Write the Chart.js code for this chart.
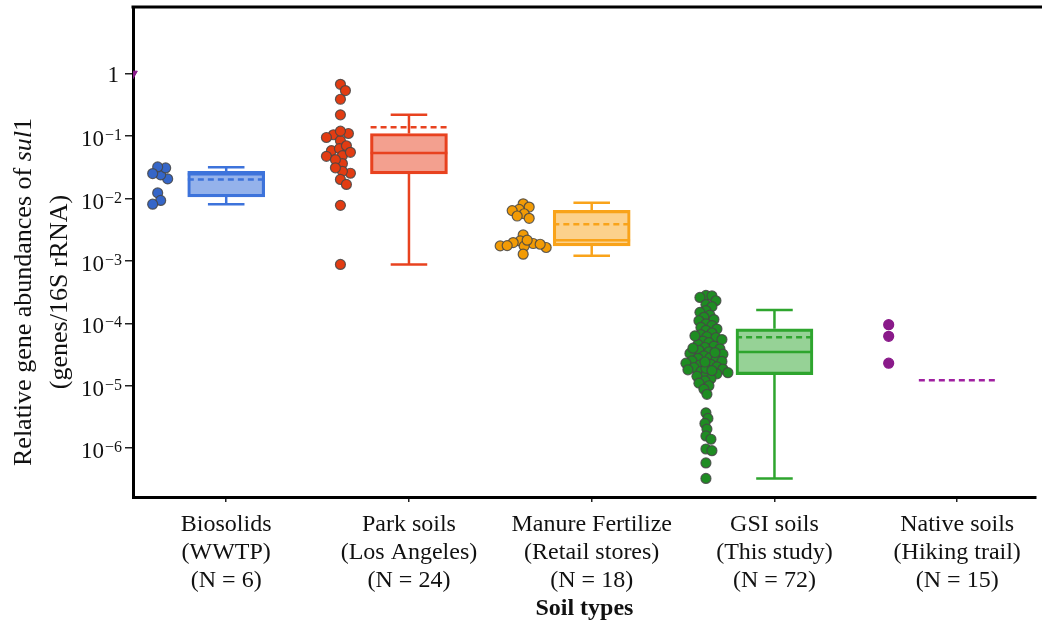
<!DOCTYPE html>
<html>
<head>
<meta charset="utf-8">
<script src="https://cdn.jsdelivr.net/npm/chart.js@4.4.1/dist/chart.umd.min.js"></script>
<style>
  html, body { margin: 0; padding: 0; background: #fff; }
</style>
</head>
<body>
<canvas id="myChart" width="1042" height="635"></canvas>
<script>
// ---- data ----
const categories = ["Biosolids", "Park soils", "Manure Fertilize", "GSI soils", "Native soils"];
const subLabels = ["(WWTP)", "(Los Angeles)", "(Retail stores)", "(This study)", "(Hiking trail)"];
const sampleSizes = [6, 24, 18, 72, 15];

const biosolids = [0.0206, 0.0239, 0.0309, 0.032, 0.0251, 0.0123, 0.0093, 0.0081];
const parkSoils = [0.675, 0.536, 0.389, 0.219, 0.110, 0.105, 0.0845, 0.0585, 0.063, 0.0487, 0.0474, 0.0363,
                   0.0254, 0.0273, 0.0202, 0.0168, 0.00776, 0.000877, 0.095, 0.07, 0.042, 0.031, 0.055, 0.12];
const manure = [0.00823, 0.00729, 0.0067, 0.0064, 0.0057, 0.00524, 0.00482, 0.00261, 0.00209, 0.0019,
                0.00197, 0.00174, 0.00172, 0.00176, 0.00164, 0.00128, 0.00185, 0.00215];
const gsiSoils = [2.8e-4, 2.75e-4, 2.6e-4, 2.3e-4, 2.0e-4, 1.85e-4, 1.6e-4, 1.5e-4, 1.35e-4, 1.25e-4,
                  1.15e-4, 1.1e-4, 9.8e-5, 9.2e-5, 8.6e-5, 8.1e-5, 7.7e-5, 7.0e-5, 6.6e-5, 6.1e-5,
                  5.9e-5, 5.5e-5, 5.2e-5, 4.9e-5, 4.6e-5, 4.3e-5, 4.1e-5, 3.9e-5, 3.7e-5, 3.5e-5,
                  3.3e-5, 3.2e-5, 3.0e-5, 2.8e-5, 2.75e-5, 2.6e-5, 2.5e-5, 2.45e-5, 2.3e-5, 2.2e-5,
                  2.15e-5, 2.0e-5, 1.95e-5, 1.85e-5, 1.8e-5, 1.7e-5, 1.62e-5, 1.55e-5, 1.5e-5, 1.42e-5,
                  1.3e-5, 1.2e-5, 1.1e-5, 1.0e-5, 8.8e-6, 7.3e-6, 3.4e-5, 1.9e-5, 4.0e-5, 2.4e-5,
                  1.75e-5, 6.3e-5,
                  3.68e-6, 3.0e-6, 2.49e-6, 2.02e-6, 1.57e-6, 1.39e-6, 9.7e-7, 9.1e-7, 5.8e-7, 3.27e-7];
const nativeSoils = [9.5e-5, 6.2e-5, 2.3e-5];

// box statistics (no box for native soils, only the mean line)
const q1 = [0.0106, 0.0248, 0.00174, 1.51e-5];
const q3 = [0.0273, 0.110, 0.00645, 8.17e-5];
const medians = [0.0244, 0.0536, 0.00215, 3.47e-5];
const whiskerLow = [0.0081, 0.000877, 0.00121, 3.27e-7];
const whiskerHigh = [0.0316, 0.219, 0.00855, 1.64e-4];
const means = [0.0201, 0.138, 0.00386, 6.0e-5, 1.22e-5];

const yTicks = [1, 1e-1, 1e-2, 1e-3, 1e-4, 1e-5, 1e-6];

// ---- styling ----
const dotColors = ["#3566c8", "#e23c12", "#f29b05", "#1e8c22", "#8a1a8a"];
const edgeColors = ["#3d73db", "#e8421f", "#f9a31a", "#2ea52e", "#a020a0"];
const boxFills = ["rgba(61,115,219,0.55)", "rgba(232,66,31,0.5)", "rgba(249,163,26,0.5)", "rgba(46,165,46,0.5)"];
const swarmGaps = [8, 7.5, 6.5, 5.8, 7];
const SERIF = '"Liberation Serif", "Times New Roman", serif';

const X_MIN = -0.51, X_MAX = 4.43;
const SWARM_SHIFT = -0.375;
const HALF_BOX = 0.21, HALF_CAP = 0.1;

const dotGroups = [biosolids, parkSoils, manure, gsiSoils, nativeSoils];

const whiskerData = [];
q1.forEach((v, i) => {
    whiskerData.push(
        { x: i - HALF_CAP, y: whiskerHigh[i] }, { x: i + HALF_CAP, y: whiskerHigh[i] }, { x: i, y: null },
        { x: i, y: whiskerHigh[i] }, { x: i, y: q3[i] }, { x: i, y: null },
        { x: i, y: v }, { x: i, y: whiskerLow[i] }, { x: i, y: null },
        { x: i - HALF_CAP, y: whiskerLow[i] }, { x: i + HALF_CAP, y: whiskerLow[i] }, { x: i, y: null }
    );
});
const medianData = [];
medians.forEach((m, i) => {
    medianData.push({ x: i - HALF_BOX, y: m }, { x: i + HALF_BOX, y: m }, { x: i, y: null });
});
const meanData = [];
means.forEach((m, i) => {
    meanData.push({ x: i - HALF_BOX, y: m }, { x: i + HALF_BOX, y: m }, { x: i, y: null });
});

const segColor = ctx => edgeColors[Math.round(ctx.p0.parsed.x)];

const datasets = [];
dotGroups.forEach((vals, g) => {
    datasets.push({
        type: "scatter",
        data: vals.map(v => ({ x: g + SWARM_SHIFT, y: v })),
        backgroundColor: dotColors[g],
        borderColor: g === 4 ? dotColors[g] : "rgba(70,70,70,0.85)",
        borderWidth: 1.2,
        pointRadius: 5,
    });
});
datasets.push({
    type: "line", data: medianData, borderWidth: 2.5, pointRadius: 0, spanGaps: false,
    segment: { borderColor: segColor },
});
datasets.push({
    type: "line", data: meanData, borderWidth: 2.5, pointRadius: 0, spanGaps: false,
    borderDash: [6, 4], segment: { borderColor: segColor },
});
datasets.push({
    type: "line", data: whiskerData, borderWidth: 2.5, pointRadius: 0, spanGaps: false,
    segment: { borderColor: segColor },
});
datasets.push({
    type: "bar",
    data: q1.map((v, i) => ({ x: i, y: [v, q3[i]] })),
    backgroundColor: boxFills,
    borderColor: edgeColors.slice(0, 4),
    borderWidth: 2.5,
    borderSkipped: false,
    barThickness: 77,
});
// the clipped purple marker sitting on the left spine at 1
datasets.push({
    type: "scatter",
    data: [{ x: X_MIN, y: 1 }],
    pointStyle: "triangle", rotation: 180, pointRadius: 5,
    backgroundColor: dotColors[4], borderColor: dotColors[4],
});

const frame = {
    id: "frame",
    afterDraw(chart) {
        const { ctx, chartArea } = chart;
        ctx.save();
        ctx.strokeStyle = "#000";
        ctx.lineWidth = 3;
        ctx.beginPath();
        ctx.moveTo(chartArea.left - 1.5, chartArea.top);
        ctx.lineTo(chart.width, chartArea.top);
        ctx.stroke();
        ctx.restore();
    },
};

const yLabels = {
    id: "yLabels",
    afterDraw(chart) {
        const { ctx, chartArea } = chart;
        const y = chart.scales.y;
        const right = chartArea.left - 11;
        ctx.save();
        ctx.fillStyle = "#111";
        ctx.textAlign = "right";
        ctx.textBaseline = "alphabetic";
        yTicks.forEach(v => {
            const py = y.getPixelForValue(v);
            const e = Math.round(Math.log10(v));
            ctx.font = "23px " + SERIF;
            if (e === 0) { ctx.fillText("1", right - 3, py + 8); return; }
            ctx.font = "16px " + SERIF;
            const expText = "\u2212" + (-e);
            const ew = ctx.measureText(expText).width;
            ctx.fillText(expText, right, py + 4);
            ctx.font = "23px " + SERIF;
            ctx.fillText("10", right - ew - 1, py + 10);
        });

        // rotated axis title with italic gene name
        const cy = 292;
        const parts = [
            ["Relative gene abundances of ", "26px " + SERIF],
            ["sul", "italic 26px " + SERIF],
            ["1", "26px " + SERIF],
        ];
        ctx.translate(31, cy);
        ctx.rotate(-Math.PI / 2);
        ctx.textAlign = "left";
        ctx.textBaseline = "alphabetic";
        let total = 0;
        parts.forEach(p => { ctx.font = p[1]; total += ctx.measureText(p[0]).width; });
        let px = -total / 2;
        parts.forEach(p => { ctx.font = p[1]; ctx.fillText(p[0], px, 0); px += ctx.measureText(p[0]).width; });
        ctx.font = "26px " + SERIF;
        ctx.textAlign = "center";
        ctx.fillText("(genes/16S rRNA)", 0, 36);
        ctx.restore();
    },
};

function layoutSwarm(chart) {
    const xs = chart.scales.x, ys = chart.scales.y;
    dotGroups.forEach((vals, g) => {
        const cx = xs.getPixelForValue(g + SWARM_SHIFT);
        const gap = swarmGaps[g];
        const order = vals.map((v, k) => k).sort((a, b) => vals[b] - vals[a]);
        const placed = [];
        const ds = chart.data.datasets[g];
        order.forEach(k => {
            const py = ys.getPixelForValue(vals[k]);
            let off = 0;
            for (let n = 0; n < 200; n++) {
                off = n === 0 ? 0 : (n % 2 ? (n + 1) / 2 : -n / 2);
                const ok = placed.every(p => Math.hypot(p.x - (cx + off), p.y - py) >= gap);
                if (ok) break;
            }
            placed.push({ x: cx + off, y: py });
            ds.data[k] = { x: xs.getValueForPixel(cx + off), y: vals[k] };
        });
    });
    chart.update("none");
}

const chart = new Chart(document.getElementById("myChart").getContext("2d"), {
    type: "scatter",
    data: { datasets },
    options: {
        responsive: false,
        animation: false,
        devicePixelRatio: 1,
        layout: { padding: { top: 7, left: 0, right: 0, bottom: 0 } },
        plugins: { legend: { display: false }, tooltip: { enabled: false } },
        scales: {
            x: {
                type: "linear",
                min: X_MIN,
                max: X_MAX,
                offset: false,
                afterBuildTicks: s => { s.ticks = categories.map((c, i) => ({ value: i })); },
                afterFit: s => { s.height = 138; },
                grid: { offset: false, drawOnChartArea: false, drawTicks: true, tickLength: 5, color: "#222", lineWidth: 1.5 },
                border: { display: true, color: "#000", width: 3 },
                ticks: {
                    autoSkip: false,
                    maxRotation: 0,
                    padding: 9,
                    color: "#111",
                    font: { family: SERIF, size: 24, lineHeight: 1.17 },
                    callback: v => {
                        const i = Math.round(v);
                        return [categories[i], subLabels[i], "(N = " + sampleSizes[i] + ")"];
                    },
                },
                title: {
                    display: true,
                    text: "Soil types",
                    color: "#111",
                    font: { family: SERIF, size: 24, weight: "bold" },
                    padding: { top: 0, bottom: 12 },
                },
            },
            y: {
                type: "logarithmic",
                min: 1.65e-7,
                max: 11.7,
                afterBuildTicks: s => { s.ticks = yTicks.map(v => ({ value: v })); },
                afterFit: s => { s.width = 133; },
                grid: { drawOnChartArea: false, drawTicks: true, tickLength: 8, color: "#222", lineWidth: 1.5 },
                border: { display: true, color: "#000", width: 3 },
                ticks: { display: false },
            },
        },
    },
    plugins: [frame, yLabels],
});

layoutSwarm(chart);
</script>
</body>
</html>
